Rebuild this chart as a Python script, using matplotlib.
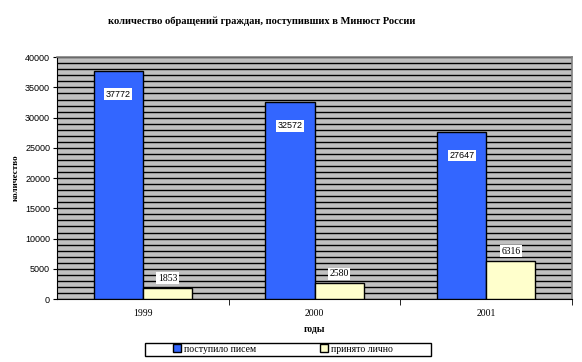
import matplotlib.pyplot as plt
import matplotlib.patches as patches
import numpy as np

years = ['1999', '2000', '2001']
letters = [37772, 32572, 27647]
in_person = [1853, 2580, 6316]

title = 'количество обращений граждан, поступивших в Минюст России'
series_names = ['поступило писем', 'принято лично']

blue = '#3366FF'
cream = '#FFFFCC'

fig = plt.figure(figsize=(5.82, 3.62), dpi=100)
ax = fig.add_axes([0.098, 0.174, 0.885, 0.668])
ax.set_facecolor('#C0C0C0')

x = np.arange(len(years))
w = 0.286
b1 = ax.bar(x - w / 2, letters, w, color=blue, edgecolor='black', linewidth=1, zorder=3)
b2 = ax.bar(x + w / 2, in_person, w, color=cream, edgecolor='black', linewidth=1, zorder=3)

ax.set_xlim(-0.5, 2.5)
ax.set_ylim(0, 40000)
ax.set_yticks(np.arange(0, 40001, 5000))
ax.set_yticks(np.arange(0, 40001, 1000), minor=True)
ax.grid(True, axis='y', which='both', color='black', linewidth=1, zorder=1)
ax.set_xticks(x)
ax.set_xticklabels(years, family='Liberation Serif', fontsize=7)
ax.set_xticks([0.5, 1.5, 2.5], minor=True)
ax.tick_params(axis='x', which='major', length=0, pad=7)
ax.tick_params(axis='x', which='minor', length=4, color='black')
ax.tick_params(axis='y', which='major', length=3, labelsize=6.5, pad=2)
ax.tick_params(axis='y', which='minor', length=0)
for lbl in ax.get_yticklabels():
    lbl.set_family('Liberation Sans')

for s in ['top', 'right']:
    ax.spines[s].set_color('#808080')
    ax.spines[s].set_linewidth(1.2)
ax.spines['left'].set_color('black')
ax.spines['bottom'].set_color('black')

# labels: inside the top of the blue bars, above the cream ones
for rect, v in zip(b1, letters):
    ax.annotate(str(v), (rect.get_x() + rect.get_width() / 2, v), xytext=(0, -17),
                textcoords='offset points', ha='center', va='center', fontsize=6.5,
                family='Liberation Sans', zorder=5,
                bbox=dict(boxstyle='square,pad=0.15', facecolor='white', edgecolor='none'))
for rect, v in zip(b2, in_person):
    ax.annotate(str(v), (rect.get_x() + rect.get_width() / 2, v), xytext=(0, 7),
                textcoords='offset points', ha='center', va='center', fontsize=7,
                family='Liberation Serif', zorder=5,
                bbox=dict(boxstyle='square,pad=0.15', facecolor='white', edgecolor='none'))

fig.text(0.449, 0.94, title, ha='center', va='center', fontsize=7.6,
         family='Liberation Serif', weight='bold')
ax.set_ylabel('количество', family='Liberation Serif', weight='bold', fontsize=6.5, labelpad=4)
ax.set_xlabel('годы', family='Liberation Serif', weight='bold', fontsize=7, labelpad=5)

leg = fig.legend([b1[0], b2[0]], series_names, loc='center', bbox_to_anchor=(0.486, 0.036),
                 ncol=2, frameon=False, handlelength=0.8, handleheight=0.8,
                 columnspacing=6.6, borderpad=0.1, handletextpad=0.3,
                 prop={'family': 'Liberation Serif', 'size': 7})
fig.patches.append(patches.Rectangle((145 / 582, 1 - 356 / 362), 286 / 582, 13 / 362,
                                     transform=fig.transFigure, fill=False,
                                     edgecolor='black', linewidth=1))

fig.savefig('out.png', dpi=100)
